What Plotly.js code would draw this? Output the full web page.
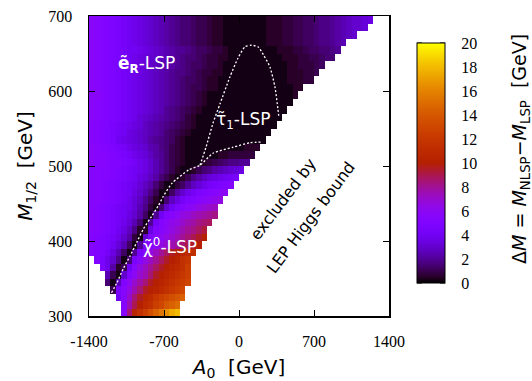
<!DOCTYPE html>
<html>
<head>
<meta charset="utf-8">
<script src="https://cdn.plot.ly/plotly-3.0.1.min.js"></script>
<style>html,body{margin:0;padding:0;background:#fff;}#chart{width:532px;height:381px;}</style>
</head>
<body>
<div id="chart"></div>
<script>
// ---- grid definition (cell edges) ----
const A0_START = -1400, A0_STEP = 50, N_COLS = 56;   // A0 [GeV]
const M_START = 300, M_STEP = 10, N_ROWS = 40;      // M_1/2 [GeV]

// ---- Delta M values, one row per M_1/2 bin (first row = 690-700 GeV) ----
// each row is written in chunks of 10 columns; '.' = no point;
// code: index i in CODE -> i/4 GeV for i<=40, 10+(i-40)/2 GeV above
const CODE = "0123456789abcdefghijklmnopqrstuvwxyzABCDEFGHIJKLMNOPQRSTUVWXYZ";
const DM_ROWS = [
  ["nmlkjihgfe","dcba987665","4432211111","1112223344","5567789abc","cde"],
  ["nmlkjihgfe","dcba987665","4432211111","1112223344","5567789abc","cd"],
  ["nmlkjihgfe","dcba987665","4432211111","1112223344","5567789abc"],
  ["nmlkjihgfe","dcba987665","4432211111","1112223344","5567789a"],
  ["nmlkjihggf","edcba98876","5543321111","1111122233","4556678"],
  ["nmlkjihgfe","dccba98766","5433221111","1111112223","344566"],
  ["nmlkjihgfe","dcbaa98765","5433211111","1111111223","3345"],
  ["nmlkjihgfe","dcba987765","4332211111","1111111222","334"],
  ["nmlkjihgfe","dcba987655","4322111111","1111111222","33"],
  ["nmlkjihgfe","dcba987654","4322111111","1111111122"],
  ["nnlkjihgfe","dcba987654","3211111111","111111112"],
  ["nmlkjihgfe","dcba987654","3211111111","11111111"],
  ["nmlkjihgfe","dcba876543","2111111111","1111111"],
  ["nmlkjihgfd","cba9876532","1111111111","111111"],
  ["mlkjihgfed","ba98765432","1111111111","11111"],
  ["mlkjihgedc","ba98654321","1111111111","1111"],
  ["mlkjigfedc","b987653211","1111111111","111"],
  ["nmlkjihfed","ca97643211","1111111112","22"],
  ["nmmlkjihfe","db98643211","1111223333","3"],
  ["nmmlkkjihf","eca8643211","1234567788"],
  ["mmllkjihgf","eca8642112","4679abcde"],
  ["mmllkjihge","db96421247","9bdefghi"],
  ["mmlkjihgfd","b96311358b","dfhijkl"],
  ["mmlkjihgec","a741159cfh","jklmno"],
  ["mmlkjihfdb","85216behjk","mnopq"],
  ["mlkjihgfda","7316cgjlno","qrst"],
  ["mlkjihgec9","518gkmoqrt","uvwx"],
  ["mlkjihfda6","18hlnpqsuv","xyz"],
  ["mlkjigeb72","2ekmoqsuwx","zB"],
  ["lkjihfc931","cjmoqsuwyA","CE"],
  ["lkjigda518","imoqsuwyAC","E"],
  ["lkjhea518i","mqtwzCEFGH"],
  [".kifc716im","qtwzCEFHI"],
  ["..jf924gmq","twzCEFGHJ"],
  ["...a41ckos","uyCEFGHIJ"],
  ["...61akosv","yCEFGHIJK"],
  ["....4imquy","CEFGHIJK"],
  [".....gmsyC","FGIJKLMN"],
  ["......muAE","GHJKMNO"],
  ["......myFH","JLNPRTU"]
];

// ---- boundary curves (dashed white lines) ----
const NEUT_A0 = [-1190,-1141,-1080,-1017,-955,-893,-815,-753,-709,-625,-467,-364,-243,-56,103,215];
const NEUT_M  = [331,344,363,380,398,416,433,447,459,477,495,501,517,525,531,532];
const STAU_A0 = [-364,-308,-243,-177,-84,-9,56,112,177,233,289,336,364,373];
const STAU_M  = [501,525,557,583,619,644,659,661,659,647,632,605,575,564];

// ---- ticks ----
const X_TICKS = [-1400,-700,0,700,1400];
const X_TICK_TEXT = ["-1400","-700","0","700","1400"];
const Y_TICKS = [300,400,500,600,700];
const Z_TICKS = [0,2,4,6,8,10,12,14,16,18,20];
const Z_MIN = 0, Z_MAX = 20;

// ---- build the grid ----
function decode(ch){ if(ch==='.') return null; const i = CODE.indexOf(ch); if(i<0) return null; return i<=40 ? i/4 : 10+(i-40)/2; }
const xEdges = Array.from({length:N_COLS+1},(_,i)=>A0_START+i*A0_STEP);
const yEdges = Array.from({length:N_ROWS+1},(_,i)=>M_START+i*M_STEP);
const z = DM_ROWS.slice().reverse().map(parts => parts.join("").padEnd(N_COLS,'.').slice(0,N_COLS).split('').map(decode));

// gnuplot default pm3d palette (rgbformulae 7,5,15)
const cs = [];
for(let i=0;i<=40;i++){const t=i/40;const r=Math.sqrt(t),g=t*t*t,b=Math.max(0,Math.sin(2*Math.PI*t));
  cs.push([t,`rgb(${Math.round(255*r)},${Math.round(255*g)},${Math.round(255*b)})`]);}

const serif = "Liberation Serif, Times New Roman, serif";
const sans = "DejaVu Sans, sans-serif";

// colour bar geometry (paper units)
const CB_X0 = (417-89)/300, CB_X1 = (445-89)/300, CB_Y = 0.51, CB_LEN = 0.8;
const cbY = v => CB_Y - CB_LEN/2 + CB_LEN*(v-Z_MIN)/(Z_MAX-Z_MIN);
const tickShapes = [];
Z_TICKS.forEach(v => {
  tickShapes.push({type:'line',xref:'paper',yref:'paper',x0:CB_X0,x1:CB_X0+5/300,y0:cbY(v),y1:cbY(v),line:{color:'black',width:1}});
  tickShapes.push({type:'line',xref:'paper',yref:'paper',x0:CB_X1,x1:CB_X1-5/300,y0:cbY(v),y1:cbY(v),line:{color:'black',width:1}});
});

const traces = [
  {type:'heatmap', x:xEdges, y:yEdges, z:z, zmin:Z_MIN, zmax:Z_MAX, colorscale:cs, zsmooth:false, hoverinfo:'skip',
   colorbar:{x:CB_X0, xanchor:'left', xpad:0, ypad:0, y:CB_Y, yanchor:'middle', len:CB_LEN, lenmode:'fraction',
     thickness:28, thicknessmode:'pixels', outlinecolor:'black', outlinewidth:1,
     tickvals:Z_TICKS, ticks:'outside', ticklen:13, tickcolor:'rgba(0,0,0,0)', tickfont:{family:serif,size:16,color:'black'}}},
  {type:'scatter', mode:'lines', x:NEUT_A0, y:NEUT_M, line:{color:'white',width:1.3,dash:'2px,2px',shape:'spline',smoothing:0.6}, hoverinfo:'skip', showlegend:false},
  {type:'scatter', mode:'lines', x:STAU_A0, y:STAU_M, line:{color:'white',width:1.3,dash:'2px,2px',shape:'spline',smoothing:0.6}, hoverinfo:'skip', showlegend:false}
];

const layout = {
  width:532, height:381, margin:{l:89,r:143,t:16,b:65},
  paper_bgcolor:'white', plot_bgcolor:'white', showlegend:false,
  shapes: tickShapes,
  xaxis:{range:[-1400,1400], tickvals:X_TICKS, ticktext:X_TICK_TEXT, ticks:'inside', ticklen:6, tickcolor:'black',
    showline:true, mirror:'ticks', linecolor:'black', linewidth:1.5, showgrid:false, zeroline:false,
    ticklabelstandoff:10, tickfont:{family:serif,size:16,color:'black'},
    title:{text:'<i>A</i><sub>0</sub>  [GeV]', font:{family:sans,size:20,color:'black'}, standoff:13}},
  yaxis:{range:[300,700], tickvals:Y_TICKS, ticks:'inside', ticklen:6, tickcolor:'black',
    showline:true, mirror:'ticks', linecolor:'black', linewidth:1.5, showgrid:false, zeroline:false,
    ticklabelstandoff:12, tickfont:{family:serif,size:16,color:'black'},
    title:{text:'<i>M</i><sub>1/2</sub>  [GeV]', font:{family:sans,size:20,color:'black'}, standoff:10}},
  annotations:[
    {xref:'x',yref:'y',x:-859,y:635,text:'<b>ẽ<sub>R</sub></b>-LSP',showarrow:false,font:{family:sans,size:17,color:'white'}},
    {xref:'x',yref:'y',x:37,y:561,text:'τ̃<sub>1</sub>-LSP',showarrow:false,font:{family:sans,size:17,color:'white'}},
    {xref:'x',yref:'y',x:-644,y:393,text:'χ̃<sup>0</sup>-LSP',showarrow:false,font:{family:sans,size:17,color:'white'}},
    {xref:'x',yref:'y',x:411,y:455,text:'excluded by',textangle:-53,showarrow:false,font:{family:sans,size:16,color:'black'}},
    {xref:'x',yref:'y',x:672,y:431,text:'LEP Higgs bound',textangle:-53,showarrow:false,font:{family:sans,size:16,color:'black'}},
    {xref:'paper',yref:'paper',x:(520-89)/300,y:(316-149)/300,xanchor:'center',yanchor:'middle',textangle:-90,
     text:'Δ<i>M</i> = <i>M</i><sub>NLSP</sub>−<i>M</i><sub>LSP</sub>  [GeV]',showarrow:false,font:{family:sans,size:19,color:'black'}}
  ]
};

Plotly.newPlot('chart', traces, layout, {staticPlot:true, displayModeBar:false});
</script>
</body>
</html>
